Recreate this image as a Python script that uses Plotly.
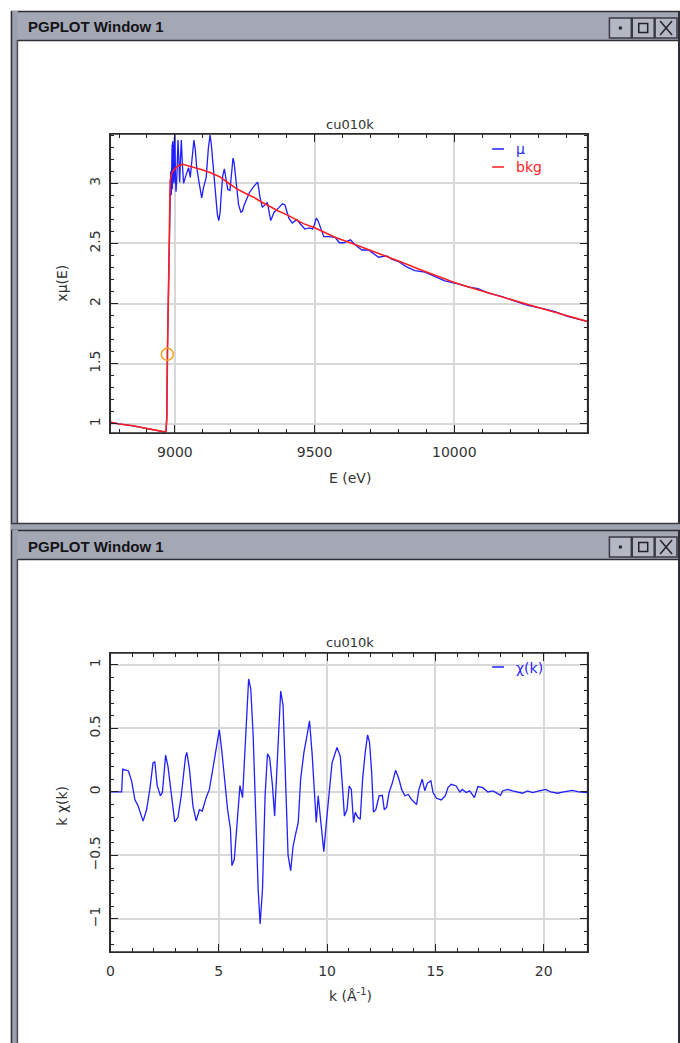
import plotly.graph_objects as go

# ---------------- data: top panel (mu(E) and background) ----------------
E_mu = [8770, 8800, 8850, 8900, 8940, 8962, 8968, 8971, 8973, 8975, 8977, 8980,
        8983, 8985, 8987, 8988, 8989, 8990, 8991, 8992, 8993, 8994, 8995, 8996,
        8997, 8998, 8999, 9000, 9002, 9004, 9007, 9011, 9014, 9017, 9020, 9023,
        9027, 9031, 9040, 9049, 9055, 9062, 9068, 9073, 9078, 9087, 9096, 9102,
        9112, 9120, 9126, 9130, 9135, 9147, 9152, 9157, 9162, 9165, 9171, 9177,
        9183, 9189, 9197, 9203, 9208, 9212, 9216, 9228, 9236, 9242, 9248, 9266,
        9281, 9290, 9296, 9300, 9304, 9313, 9331, 9343, 9355, 9373, 9385, 9394,
        9400, 9408, 9420, 9436, 9450, 9465, 9480, 9493, 9500, 9506, 9512, 9521,
        9533, 9551, 9574, 9589, 9604, 9628, 9646, 9669, 9693, 9729, 9758, 9776,
        9800, 9829, 9859, 9895, 9924, 9966, 10013, 10049, 10085, 10120, 10168,
        10215, 10263, 10310, 10358, 10405, 10479]
mu = [1.015, 1.0, 0.985, 0.965, 0.945, 0.935, 0.94, 1.05, 1.6, 1.85, 2.3, 2.75,
      3.0, 3.1, 2.9, 3.3, 3.0, 3.32, 2.95, 3.35, 3.02, 3.3, 3.05, 3.28,
      3.0, 3.38, 3.1, 3.42, 3.05, 2.93, 3.05, 3.36, 3.2, 3.01, 3.2, 3.36,
      3.15, 3.0, 3.07, 3.13, 3.05, 3.2, 3.36, 3.28, 3.13, 3.0, 2.88, 2.96,
      3.05, 3.3, 3.40, 3.33, 3.21, 2.9, 2.74, 2.69, 2.76, 2.88, 3.06, 3.12,
      3.02, 2.95, 2.94, 3.12, 3.21, 3.17, 3.07, 2.82, 2.76, 2.77, 2.82, 2.92,
      2.97, 2.99, 3.01, 2.96, 2.89, 2.8, 2.84, 2.69, 2.76, 2.8, 2.83, 2.82,
      2.78, 2.71, 2.67, 2.7, 2.66, 2.62, 2.63, 2.62, 2.66, 2.71, 2.69, 2.64,
      2.557, 2.557, 2.55, 2.506, 2.506, 2.53, 2.488, 2.446, 2.446, 2.386, 2.397, 2.37,
      2.35, 2.306, 2.275, 2.262, 2.23, 2.19, 2.165, 2.14, 2.125, 2.09, 2.06,
      2.02, 1.985, 1.963, 1.935, 1.895, 1.85]

E_bkg = [8770, 8800, 8850, 8900, 8940, 8962, 8968, 8971, 8973, 8975, 8977, 8980,
         8983, 8987, 8993, 9000, 9010, 9028, 9050, 9075, 9100, 9130, 9160, 9190,
         9220, 9250, 9280, 9310, 9340, 9370, 9400, 9430, 9460, 9500, 9530, 9575,
         9635, 9693, 9750, 9812, 9870, 9930, 10000, 10060, 10120, 10180, 10239,
         10300, 10357, 10420, 10479]
bkg = [1.015, 1.0, 0.985, 0.965, 0.945, 0.935, 0.94, 1.05, 1.5, 1.85, 2.35, 2.85,
       3.02, 3.07, 3.1, 3.12, 3.145, 3.158, 3.145, 3.13, 3.11, 3.085, 3.055, 3.005,
       2.956, 2.92, 2.887, 2.845, 2.805, 2.77, 2.74, 2.70, 2.665, 2.63, 2.60, 2.55,
       2.50, 2.45, 2.398, 2.344, 2.29, 2.238, 2.175, 2.132, 2.09, 2.05, 2.008,
       1.968, 1.931, 1.89, 1.85]

E0 = [8973]
mu_E0 = [1.58]

# ---------------- data: bottom panel (k*chi(k)) ----------------
k = [0.0, 0.52, 0.57, 0.83, 0.98, 1.13, 1.28, 1.51, 1.67, 1.82, 1.97, 2.05,
     2.16, 2.31, 2.40, 2.55, 2.66, 2.77, 2.97, 3.12, 3.27, 3.47, 3.53, 3.65,
     3.81, 3.96, 4.11, 4.24, 4.42, 4.57, 4.76, 4.95, 5.03, 5.15, 5.26, 5.41,
     5.54, 5.61, 5.72, 5.87, 5.98, 6.10, 6.25, 6.38, 6.48, 6.59, 6.71, 6.82,
     6.91, 7.02, 7.14, 7.25, 7.35, 7.48, 7.58, 7.71, 7.86, 7.97, 8.09, 8.20,
     8.32, 8.43, 8.55, 8.67, 8.78, 8.93, 9.08, 9.19, 9.31, 9.43, 9.50, 9.59,
     9.69, 9.85, 9.95, 10.08, 10.23, 10.46, 10.61, 10.72, 10.80, 10.92, 11.02,
     11.12, 11.22, 11.30, 11.42, 11.53, 11.64, 11.76, 11.87, 11.96, 12.06, 12.14,
     12.25, 12.40, 12.55, 12.64, 12.75, 12.86, 13.01, 13.16, 13.32, 13.44, 13.59,
     13.75, 13.90, 14.13, 14.24, 14.39, 14.51, 14.63, 14.79, 14.89, 15.05, 15.27,
     15.46, 15.58, 15.73, 15.96, 16.12, 16.24, 16.42, 16.58, 16.80, 16.96, 17.19,
     17.42, 17.65, 17.80, 18.00, 18.10, 18.33, 18.56, 18.79, 19.02, 19.25, 19.48,
     19.79, 20.09, 20.32, 20.63, 20.93, 21.31, 21.62, 22.0]
kchi = [0.0, 0.0, 0.18, 0.165, 0.087, -0.06, -0.11, -0.23, -0.14, 0.02, 0.23, 0.236,
        0.05, -0.03, -0.005, 0.29, 0.2, 0.05, -0.236, -0.2, -0.03, 0.28, 0.31, 0.18,
        -0.11, -0.228, -0.14, -0.15, -0.045, 0.02, 0.23, 0.41, 0.49, 0.31, 0.1, -0.14,
        -0.29, -0.58, -0.53, -0.19, 0.05, -0.045, 0.47, 0.89, 0.81, 0.44, -0.19, -0.77,
        -1.04, -0.77, -0.03, 0.30, 0.27, 0.05, -0.19, 0.23, 0.795, 0.68, 0.1, -0.5,
        -0.62, -0.43, -0.33, -0.24, 0.1, 0.31, 0.45, 0.56, 0.30, -0.08, -0.24, -0.03,
        -0.2, -0.47, -0.27, -0.02, 0.23, 0.35, 0.28, 0.02, -0.19, -0.14, 0.047,
        0.02, -0.24, -0.16, -0.2, -0.215, 0.1, 0.31, 0.45, 0.39, 0.15, -0.157,
        -0.14, -0.03, -0.026, -0.14, -0.12, -0.005, 0.07, 0.17, 0.1, 0.02, -0.03,
        -0.02, -0.06, -0.1, 0.02, 0.1, 0.01, 0.07, 0.087, -0.005, -0.05, -0.063,
        -0.03, 0.034, 0.06, 0.047, 0.0, 0.02, -0.005, 0.008, -0.045, 0.042, 0.034,
        0.0, 0.008, -0.005, -0.026, 0.008, 0.02, 0.008, 0.0, -0.01, 0.008, -0.005,
        0.008, 0.02, 0.0, -0.01, 0.0, 0.013, 0.0, -0.005]

W, H = 680, 1043
def px(x):
    return x / W
def py(y):
    return 1 - y / H

BLUE = "#1f1fff"
RED = "#ff1f1f"
TXT = "#333333"
FONT = "DejaVu Sans"

fig = go.Figure()
fig.add_trace(go.Scatter(x=E_mu, y=mu, mode="lines", line=dict(color=BLUE, width=1.3),
                         xaxis="x", yaxis="y", name="μ"))
fig.add_trace(go.Scatter(x=E_bkg, y=bkg, mode="lines", line=dict(color=RED, width=1.6),
                         xaxis="x", yaxis="y", name="bkg"))
fig.add_trace(go.Scatter(x=E0, y=mu_E0, mode="markers",
                         marker=dict(symbol="circle-open", size=12, color="#f5a020",
                                     line=dict(width=1.5, color="#f5a020")),
                         xaxis="x", yaxis="y", name="E0"))
fig.add_trace(go.Scatter(x=k, y=kchi, mode="lines", line=dict(color=BLUE, width=1.3),
                         xaxis="x2", yaxis="y2", name="χ(k)"))

def axis_common(dtick, minor_dtick):
    return dict(
        dtick=dtick, tick0=0, ticks="inside", ticklen=8, tickwidth=1, tickcolor="#222",
        showline=True, linecolor="#333", linewidth=1, mirror="allticks",
        showgrid=True, gridcolor="#d8d8d8", gridwidth=1.5, zeroline=False,
        minor=dict(dtick=minor_dtick, tick0=0, ticks="inside", ticklen=4,
                   tickcolor="#222", tickwidth=1, showgrid=False),
        tickfont=dict(family=FONT, size=14, color=TXT),
    )

XD = [px(107), px(587)]
Y1D = [py(433), py(134)]
Y2D = [py(952), py(653)]

fig.update_layout(
    width=W, height=H, margin=dict(l=0, r=0, t=0, b=0),
    paper_bgcolor="white", plot_bgcolor="white", showlegend=False,
    xaxis=dict(domain=XD, range=[8769, 10477], anchor="y", tickformat="d",
               ticklabelstandoff=6, **axis_common(500, 100)),
    yaxis=dict(domain=Y1D, range=[0.925, 3.41], anchor="x",
               tickangle=-90, ticklabelstandoff=4, **axis_common(0.5, 0.1)),
    xaxis2=dict(domain=XD, range=[0, 22.02], anchor="y2",
                ticklabelstandoff=6, **axis_common(5, 1)),
    yaxis2=dict(domain=Y2D, range=[-1.26, 1.094], anchor="x2",
                tickangle=-90, ticklabelstandoff=4, **axis_common(0.5, 0.1)),
)

# ---------------- window chrome + plot frames ----------------
shapes = []
for xr, yr in (("x domain", "y domain"), ("x2 domain", "y2 domain")):
    shapes.append(dict(type="rect", xref=xr, yref=yr, x0=0, x1=1, y0=0, y1=1,
                       line=dict(color="#2a2a2a", width=1.3), fillcolor="rgba(0,0,0,0)",
                       layer="above"))

def rect(x0, y0, x1, y1, fill, line=None):
    shapes.append(dict(type="rect", xref="paper", yref="paper",
                       x0=px(x0), x1=px(x1), y0=py(y1), y1=py(y0),
                       fillcolor=fill, line=dict(width=0) if line is None else line,
                       layer="above"))
def hline(x0, x1, y, color, w=1):
    shapes.append(dict(type="line", xref="paper", yref="paper", x0=px(x0), x1=px(x1),
                       y0=py(y), y1=py(y), line=dict(color=color, width=w)))
def vline(x, y0, y1, color, w=1):
    shapes.append(dict(type="line", xref="paper", yref="paper", x0=px(x), x1=px(x),
                       y0=py(y0), y1=py(y1), line=dict(color=color, width=w)))

BAR = "#a4a8b4"
DARK = "#2e2e36"
GRAY = "#9da1ad"

def window(top, bottom):
    rect(7, top, 680, top + 29, BAR)
    hline(7, 680, top + 0.5, DARK, 1.5)
    hline(7, 680, top + 29.5, DARK, 1.5)
    rect(7, top, 14, bottom, GRAY)
    vline(7.5, top, bottom, DARK, 1.5)
    vline(13.5, top + 29, bottom, "#4a4a52", 1.5)
    vline(679, top, bottom, DARK, 2)
    for i, bx in enumerate([609, 632, 655]):
        rect(bx, top + 7, bx + 22, top + 27, "#b4b8c4",
             dict(color="#3a3a44", width=1.5))
        cx, cy = bx + 11, top + 17
        if i == 0:
            rect(cx - 1.5, cy - 1.5, cx + 1.5, cy + 1.5, "#222228")
        elif i == 1:
            rect(cx - 4.5, cy - 4.5, cx + 4.5, cy + 4.5, "rgba(0,0,0,0)",
                 dict(color="#222228", width=1.5))
        else:
            shapes.append(dict(type="line", xref="paper", yref="paper",
                               x0=px(cx - 6), x1=px(cx + 6), y0=py(cy - 7), y1=py(cy + 7),
                               line=dict(color="#222228", width=1.5)))
            shapes.append(dict(type="line", xref="paper", yref="paper",
                               x0=px(cx - 6), x1=px(cx + 6), y0=py(cy + 7), y1=py(cy - 7),
                               line=dict(color="#222228", width=1.5)))

window(11, 530)
rect(7, 523, 680, 530, GRAY)
hline(7, 680, 523.5, "#3a3a42", 1.5)
window(530, 1043)

hline(491, 503, 149, BLUE, 1.5)
hline(491, 503, 167, RED, 1.5)
hline(491, 503, 667, BLUE, 1.5)

fig.update_layout(shapes=shapes)

ann = []
def text(t, x, y, size=14, color=TXT, xanchor="center", angle=0, family=FONT):
    ann.append(dict(text=t, x=px(x), y=py(y), xref="paper", yref="paper",
                    xanchor=xanchor, yanchor="middle", showarrow=False, textangle=angle,
                    font=dict(family=family, size=size, color=color)))

text("<b>PGPLOT Window 1</b>", 22, 27, 15, "#141418", "left", family="Liberation Sans")
text("<b>PGPLOT Window 1</b>", 22, 546, 15, "#141418", "left", family="Liberation Sans")
text("cu010k", 348, 124, 13)
text("cu010k", 348, 642, 13)
text("E (eV)", 348, 478, 14)
text("k (Å<sup>-1</sup>)", 349, 995, 14)
text("xμ(E)", 58, 283, 14, angle=-90)
text("k χ(k)", 58, 806, 14, angle=-90)
text("μ", 513, 149, 14, BLUE, "left")
text("bkg", 513, 167, 14, RED, "left")
text("χ(k)", 513, 668, 14, BLUE, "left")
fig.update_layout(annotations=ann)

fig.write_html("out.html")
